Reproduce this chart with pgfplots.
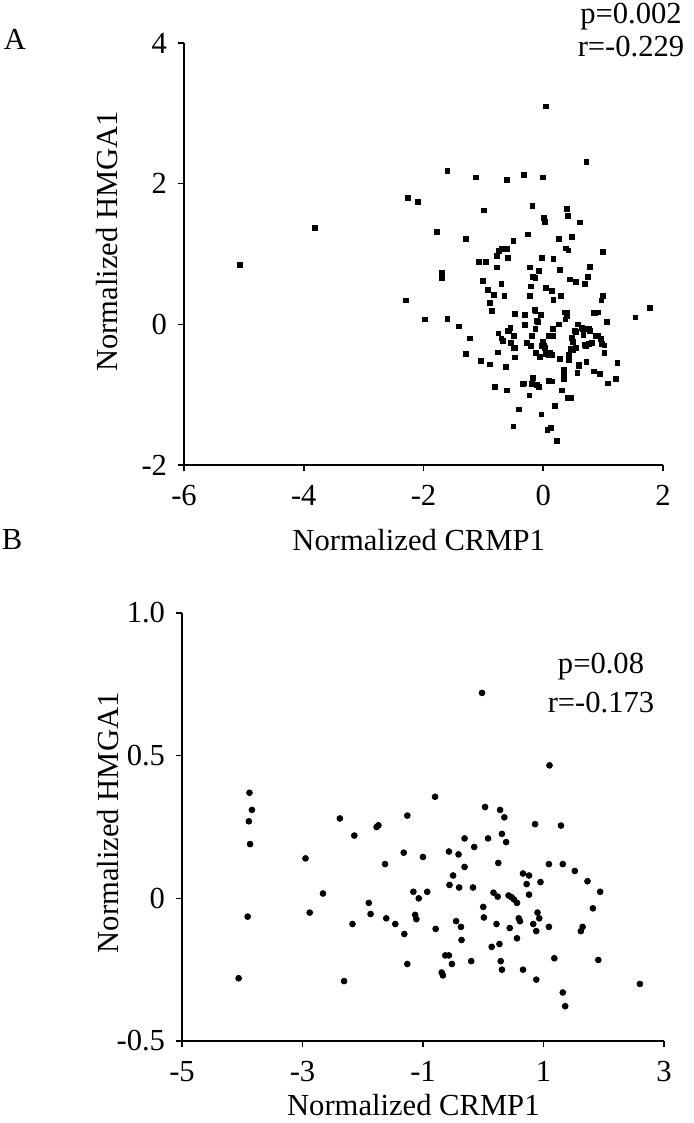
\documentclass[border=0pt]{standalone}
\usepackage{pgfplots}
\pgfplotsset{compat=1.18}
\usepackage{fontspec}
\setmainfont{Liberation Serif}

\newcommand{\figfont}{\fontsize{15.3}{18}\selectfont}

\pgfplotsset{
  corr/.style={
    scale only axis,
    anchor=south west,
    clip=false,
    axis x line=bottom,
    axis y line=left,
    axis line style={-, line width=0.8pt},
    tick align=outside,
    major tick length=3.2pt,
    every tick/.style={black, line width=0.8pt},
    tick label style={font=\figfont},
    xticklabel style={yshift=-1.5pt},
    label style={font=\figfont},
    xlabel={Normalized CRMP1},
    ylabel={Normalized HMGA1},
  },
}

\begin{document}
\figfont
\begin{tikzpicture}
\useasboundingbox (0,0) rectangle (346.5pt,-561.5pt);

% panel A
\begin{axis}[corr,
    at={(92pt,-232.5pt)},
    width=239.5pt, height=211pt,
    xmin=-6, xmax=2, ymin=-2, ymax=4,
    xtick={-6,-4,-2,0,2}, xticklabels={-6,-4,-2,0,2},
    ytick={-2,0,2,4}, yticklabels={-2,0,2,4},
    xlabel style={at={(axis description cs:0.49,-0.178)}, anchor=center},
    ylabel style={at={(axis description cs:-0.161,0.53)}, anchor=center},
]
\addplot[only marks, mark=square*, mark size=1.2pt, black] table {
x y
-5.07 0.85
-3.81 1.37
-2.30 0.34
-2.26 1.80
-2.09 1.74
-1.97 0.07
-1.78 1.31
-1.69 0.73
-1.69 0.66
-1.60 2.18
-1.60 0.08
-1.41 -0.03
-1.29 1.22
-1.29 -0.42
-1.22 -0.20
-1.12 2.09
-1.07 0.89
-0.96 0.89
-1.04 -0.52
-1.01 0.62
-0.99 1.62
-0.93 0.49
-0.89 -0.57
-0.89 0.30
-0.86 0.19
-0.82 0.42
-0.81 -0.89
-0.78 0.81
-0.78 0.97
-0.74 1.04
-0.69 1.07
-0.64 1.07
-0.60 1.07
-0.76 -0.40
-0.75 -0.13
-0.70 -0.20
-0.67 -0.24
-0.70 0.57
-0.65 0.40
-0.63 -0.61
-0.61 -0.94
-0.61 2.05
-0.59 0.95
-0.58 -0.09
-0.54 -0.26
-0.50 -1.45
-0.50 1.19
-0.48 -0.33
-0.47 0.15
-0.47 -0.47
-0.41 -1.21
-0.32 2.13
-0.30 0.13
-0.30 -0.01
-0.28 -0.26
-0.26 1.28
-0.32 -0.84
-0.23 -1.01
-0.22 0.81
-0.22 0.41
-0.21 0.54
-0.19 -0.17
-0.18 1.68
-0.17 -0.76
-0.17 0.67
-0.13 0.66
-0.13 0.19
-0.12 -0.41
-0.11 -0.86
-0.09 0.04
-0.07 0.76
-0.07 -0.89
-0.06 -0.46
-0.04 0.13
-0.03 -1.28
-0.02 0.95
0.00 -0.25
0.02 -0.30
0.03 -0.33
0.00 2.09
0.01 1.51
0.03 1.46
0.04 0.52
0.05 3.10
0.05 -0.42
0.09 -0.43
0.12 -0.40
0.15 -0.44
0.07 -1.50
0.13 -1.47
0.09 -0.80
0.14 -0.81
0.13 -0.17
0.17 -0.17
0.15 0.48
0.17 0.35
0.17 0.93
0.19 -1.16
0.23 -1.66
0.26 1.22
0.26 0.00
0.28 0.77
0.28 -0.49
0.29 0.41
0.31 -0.94
0.34 -0.65
0.35 -0.73
0.35 -0.78
0.37 0.07
0.39 0.17
0.38 1.08
0.40 1.64
0.41 1.54
0.43 -0.44
0.42 1.05
0.41 -1.05
0.46 -1.05
0.44 0.64
0.46 -0.35
0.48 1.24
0.50 -0.25
0.54 -0.33
0.54 -0.11
0.55 0.60
0.58 0.00
0.57 -0.69
0.60 -0.59
0.61 1.45
0.65 -0.05
0.67 -0.15
0.69 0.58
0.70 -0.29
0.72 2.31
0.72 -0.53
0.74 0.68
0.75 -0.06
0.78 -0.09
0.78 0.82
0.81 -0.26
0.85 -0.67
0.87 0.16
0.91 -0.17
0.92 0.17
0.94 -0.71
0.96 -0.21
0.97 0.34
1.00 0.40
0.98 -0.28
1.00 1.03
1.02 -0.41
1.06 0.03
1.08 -0.84
1.22 -0.78
1.24 -0.55
1.54 0.10
1.78 0.23
-0.10 0.05
-0.13 -0.07
-0.02 -0.31
0.07 -0.40
0.10 -0.17
0.16 -0.06
0.36 0.17
0.39 0.12
0.43 -0.50
0.49 -0.36
0.48 -0.19
0.53 -0.09
0.66 -0.07
0.76 -0.06
0.60 -0.58
0.71 -0.31
0.76 -0.28
0.85 0.16
0.88 -0.16
1.02 -0.30
-0.59 -0.09
-0.55 -0.05
-0.49 -0.17
-0.55 -0.26
-0.49 -0.34
-0.27 -0.26
-0.21 -0.31
-0.14 0.20
-0.34 -0.85
-0.19 -0.85
};
\end{axis}

% panel B
\begin{axis}[corr,
    at={(91pt,-520.5pt)},
    width=241pt, height=214pt,
    xmin=-5, xmax=3, ymin=-0.5, ymax=1.0,
    xtick={-5,-3,-1,1,3}, xticklabels={-5,-3,-1,1,3},
    ytick={-0.5,0,0.5,1.0}, yticklabels={-0.5,0,0.5,1.0},
    xlabel style={at={(axis description cs:0.48,-0.150)}, anchor=center},
    ylabel style={at={(axis description cs:-0.154,0.51)}, anchor=center},
]
\addplot[only marks, mark=*, mark size=1.45pt, black] table {
x y
-4.06 -0.28
-3.91 -0.064
-3.88 0.37
-3.84 0.31
-3.89 0.27
-3.87 0.19
-2.95 0.14
-2.88 -0.05
-2.66 0.017
-2.38 0.28
-2.31 -0.29
-2.17 -0.09
-2.14 0.22
-1.90 -0.016
-1.87 -0.055
-1.77 0.25
-1.74 0.256
-1.63 0.12
-1.61 -0.07
-1.46 -0.09
-1.32 0.16
-1.31 -0.125
-1.26 0.29
-1.26 -0.23
-1.16 0.023
-1.13 -0.058
-1.11 -0.073
-1.07 0.0
-1.00 0.145
-0.93 0.023
-0.80 0.356
-0.79 -0.107
-0.69 -0.26
-0.67 -0.27
-0.63 -0.20
-0.57 -0.20
-0.57 0.164
-0.56 0.047
-0.52 -0.23
-0.50 0.08
-0.45 -0.08
-0.37 -0.10
-0.41 0.154
-0.40 0.038
-0.36 -0.146
-0.31 0.11
-0.31 0.21
-0.20 -0.22
-0.17 0.038
-0.15 0.18
-0.02 0.72
0.00 -0.03
0.01 -0.067
0.03 0.32
0.08 0.21
0.14 -0.17
0.17 0.02
0.22 -0.09
0.24 0.006
0.25 0.124
0.27 -0.16
0.28 0.31
0.29 -0.22
0.31 -0.25
0.31 0.226
0.35 0.284
0.38 0.197
0.42 0.01
0.47 0.004
0.51 -0.004
0.56 -0.016
0.44 -0.104
0.56 -0.14
0.59 -0.07
0.61 -0.08
0.66 0.087
0.66 -0.25
0.72 0.05
0.76 0.08
0.76 0.013
0.83 -0.09
0.86 0.26
0.88 -0.115
0.88 -0.285
0.90 -0.05
0.93 -0.07
0.95 0.057
1.09 -0.10
1.09 0.12
1.10 0.466
1.18 -0.21
1.29 0.255
1.32 0.12
1.32 -0.33
1.36 -0.378
1.52 0.096
1.62 -0.115
1.65 -0.10
1.73 0.06
1.82 -0.035
1.91 -0.216
1.94 0.023
2.60 -0.30
};
\end{axis}

% panel letters and statistics
\node at (7.5pt,-19.5pt) {A};
\node at (6pt,-270pt) {B};
\node at (315.5pt,-8.5pt) {p=0.002};
\node at (315.5pt,-23.5pt) {r=-0.229};
\node at (300.5pt,-333.5pt) {p=0.08};
\node at (300.5pt,-351.5pt) {r=-0.173};
\end{tikzpicture}
\end{document}
